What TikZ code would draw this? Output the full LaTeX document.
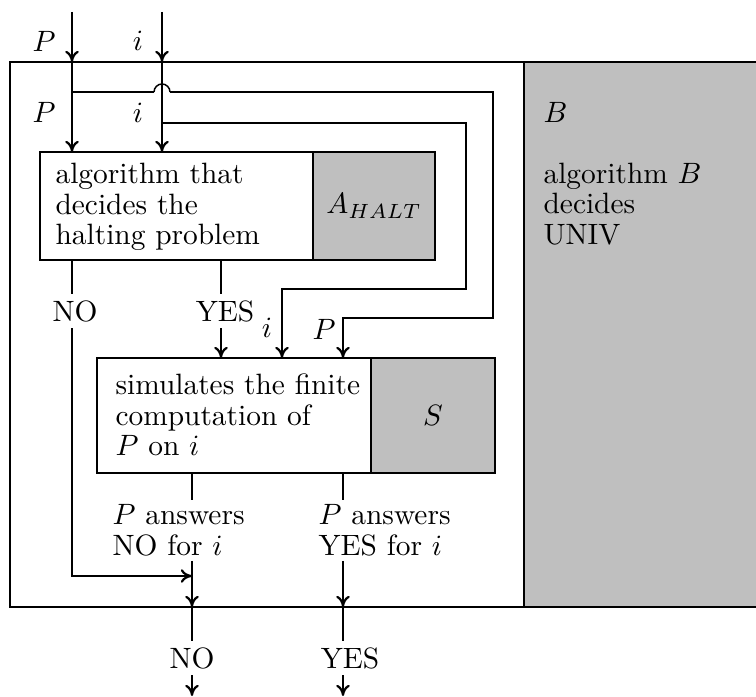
\documentclass[tikz,border=0pt]{standalone}
\usetikzlibrary{arrows.meta}
\definecolor{boxgray}{gray}{0.75}
\begin{document}
\begin{tikzpicture}[x=0.34pt,y=-0.34pt,
  every node/.style={font=\fontsize{10}{10.3}\selectfont},
  box/.style={draw, line width=0.6pt, inner sep=0pt, outer sep=0pt},
  gbox/.style={box, fill=boxgray},
  txt/.style={inner xsep=0pt, inner ysep=0pt, text width=110pt, align=left, anchor=base west},
  lbl/.style={inner sep=2pt},
  wire/.style={line width=0.5pt},
  arr/.style={wire, -{Computer Modern Rightarrow[length=3.8pt,width=4.6pt,line width=0.75pt]}}]
\useasboundingbox (0,0) rectangle (756,697);
% outer algorithm B
\fill[boxgray] (524,62) rectangle (756,607);
\draw[line width=0.6pt] (756,62) -- (10,62) -- (10,607) -- (756,607);
\draw[line width=0.6pt] (524,62) -- (524,607);
\node[txt] (Btext) at (543,123) {$B$\\[10.3pt]algorithm $B$\\decides\\UNIV};
% boxes
\node[box, minimum width=273*0.34pt, minimum height=108*0.34pt] (A) at (176.5,206) {};
\node[gbox, minimum width=122*0.34pt, minimum height=108*0.34pt] (Ag) at (374,206) {$A_{HALT}$};
\node[txt] (Atext) at (55,184) {algorithm that\\decides the\\halting problem};
\node[box, minimum width=274*0.34pt, minimum height=115*0.34pt] (S) at (234,415.5) {};
\node[gbox, minimum width=124*0.34pt, minimum height=115*0.34pt] (Sg) at (433,415.5) {$S$};
\node[txt] (Stext) at (115,395) {simulates the finite\\computation of\\$P$ on $i$};
% labels
\node[lbl] (Pin) at (44,41) {$P$};
\node[lbl] (iin) at (138,41) {$i$};
\node[lbl] (Pin2) at (44,112) {$P$};
\node[lbl] (iin2) at (138,113) {$i$};
\node[lbl] (noA) at (75,311) {NO};
\node[lbl] (yesA) at (225,311) {YES};
\node[lbl] (iS) at (267,328) {$i$};
\node[lbl] (PS) at (324,329) {$P$};
\node[txt, inner ysep=1.5pt] (ansNo) at (112,525) {$P$ answers\\NO for $i$};
\node[txt, inner ysep=1.5pt] (ansYes) at (318,525) {$P$ answers\\YES for $i$};
\node[lbl] (noOut) at (192,658) {NO};
\node[lbl] (yesOut) at (350,658) {YES};
% coordinates
\coordinate (Ptop) at (72,12);
\coordinate (Pent) at (72,62);
\coordinate (Pbr) at (72,92);
\coordinate (hopL) at (154,92);
\coordinate (hopR) at (170,92);
\coordinate (itop) at (162,12);
\coordinate (ient) at (162,62);
\coordinate (ibr) at (162,123);
\coordinate (pS) at (343,318);
\coordinate (iSc) at (282,289);
\coordinate (yx) at (221,0);
\coordinate (xNo) at (192,0);
\coordinate (xYes) at (343,0);
\coordinate (merge) at (192,576);
\coordinate (noExit) at (192,607);
\coordinate (yesExit) at (343,607);
\coordinate (noEnd) at (192,696);
\coordinate (yesEnd) at (343,696);
% inputs
\draw[arr] (Ptop) -- (Pent);
\draw[arr] (Pent) -- (Pent |- A.north);
\draw[arr] (itop) -- (ient);
\draw[arr] (ient) -- (ient |- A.north);
\draw[wire] (Pbr) -- (hopL);
\draw[wire] (hopL) arc[start angle=180,end angle=360,radius=8];
\draw[arr] (hopR) -- (493,92) -- (493,318) -- (pS) -- (pS |- S.north);
\draw[arr] (ibr) -- (466,123) -- (466,289) -- (iSc) -- (iSc |- S.north);
% A outputs
\draw[wire] (A.south -| Pent) -- (noA.north -| Pent);
\draw[arr] (noA.south -| Pent) -- (Pent |- merge) -- (merge);
\draw[wire] (A.south -| yx) -- (yesA.north -| yx);
\draw[arr] (yesA.south -| yx) -- (yx |- S.north);
% S outputs
\draw[wire] (S.south -| xNo) -- (ansNo.north -| xNo);
\draw[arr] (ansNo.south -| xNo) -- (noExit);
\draw[wire] (noExit) -- (noOut.north -| xNo);
\draw[arr] (noOut.south -| xNo) -- (noEnd);
\draw[wire] (S.south -| xYes) -- (ansYes.north -| xYes);
\draw[arr] (ansYes.south -| xYes) -- (yesExit);
\draw[wire] (yesExit) -- (yesOut.north -| xYes);
\draw[arr] (yesOut.south -| xYes) -- (yesEnd);
\end{tikzpicture}
\end{document}
